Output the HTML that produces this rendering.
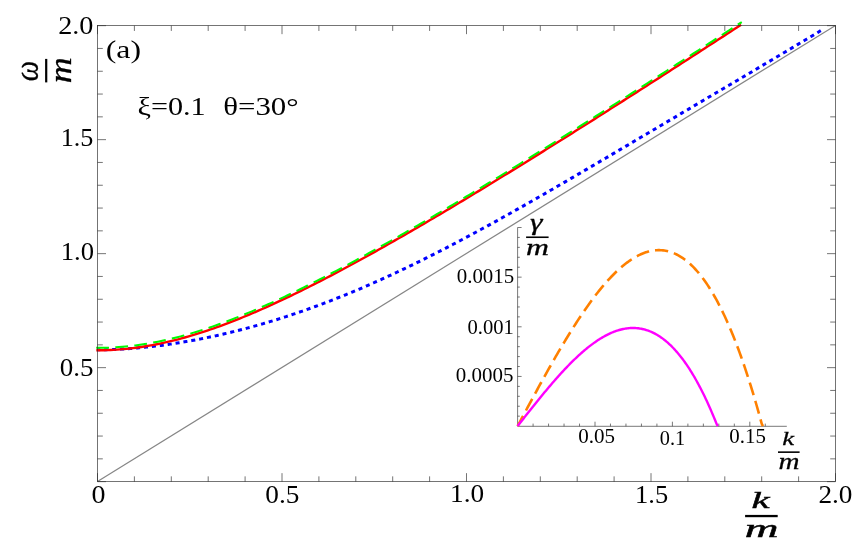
<!DOCTYPE html>
<html><head><meta charset="utf-8"><title>Dispersion plot</title><style>html,body{margin:0;padding:0;background:#fff}svg{display:block}</style></head>
<body>
<svg width="863" height="542" viewBox="0 0 863 542">
<rect width="100%" height="100%" fill="#fff"/>
<path d="M97.50,481.40 L835.50,25.40" stroke="#868686" stroke-width="1.2" fill="none"/>
<path d="M97.50,349.76 L99.31,349.76 L101.13,349.75 L102.94,349.73 L104.76,349.70 L106.57,349.67 L108.39,349.62 L110.20,349.57 L112.02,349.51 L113.83,349.45 L115.64,349.38 L117.46,349.30 L119.27,349.21 L121.09,349.11 L122.90,349.01 L124.72,348.91 L126.53,348.79 L128.35,348.67 L130.16,348.54 L131.98,348.41 L133.79,348.27 L135.60,348.12 L137.42,347.96 L139.23,347.80 L141.05,347.64 L142.86,347.46 L144.68,347.28 L146.49,347.10 L148.31,346.91 L150.12,346.71 L151.93,346.50 L153.75,346.29 L155.56,346.08 L157.38,345.86 L159.19,345.63 L161.01,345.40 L162.82,345.16 L164.64,344.91 L166.45,344.66 L168.26,344.40 L170.08,344.14 L171.89,343.88 L173.71,343.60 L175.52,343.32 L177.34,343.04 L179.15,342.75 L180.97,342.46 L182.78,342.16 L184.60,341.85 L186.41,341.54 L188.22,341.22 L190.04,340.90 L191.85,340.57 L193.67,340.24 L195.48,339.90 L197.30,339.56 L199.11,339.21 L200.93,338.86 L202.74,338.50 L204.55,338.14 L206.37,337.77 L208.18,337.39 L210.00,337.01 L211.81,336.63 L213.63,336.24 L215.44,335.85 L217.26,335.45 L219.07,335.04 L220.88,334.63 L222.70,334.22 L224.51,333.80 L226.33,333.37 L228.14,332.94 L229.96,332.51 L231.77,332.07 L233.59,331.62 L235.40,331.17 L237.22,330.71 L239.03,330.25 L240.84,329.79 L242.66,329.32 L244.47,328.84 L246.29,328.36 L248.10,327.88 L249.92,327.39 L251.73,326.89 L253.55,326.39 L255.36,325.89 L257.17,325.38 L258.99,324.86 L260.80,324.34 L262.62,323.82 L264.43,323.29 L266.25,322.76 L268.06,322.22 L269.88,321.67 L271.69,321.12 L273.50,320.57 L275.32,320.01 L277.13,319.45 L278.95,318.88 L280.76,318.31 L282.58,317.73 L284.39,317.15 L286.21,316.56 L288.02,315.97 L289.84,315.37 L291.65,314.77 L293.46,314.16 L295.28,313.55 L297.09,312.94 L298.91,312.31 L300.72,311.69 L302.54,311.06 L304.35,310.42 L306.17,309.79 L307.98,309.14 L309.79,308.49 L311.61,307.84 L313.42,307.18 L315.24,306.52 L317.05,305.85 L318.87,305.18 L320.68,304.50 L322.50,303.82 L324.31,303.14 L326.12,302.45 L327.94,301.75 L329.75,301.06 L331.57,300.35 L333.38,299.65 L335.20,298.93 L337.01,298.22 L338.83,297.50 L340.64,296.77 L342.45,296.04 L344.27,295.31 L346.08,294.57 L347.90,293.83 L349.71,293.08 L351.53,292.33 L353.34,291.57 L355.16,290.82 L356.97,290.05 L358.79,289.28 L360.60,288.51 L362.41,287.74 L364.23,286.96 L366.04,286.17 L367.86,285.39 L369.67,284.59 L371.49,283.80 L373.30,283.00 L375.12,282.19 L376.93,281.39 L378.74,280.57 L380.56,279.76 L382.37,278.94 L384.19,278.12 L386.00,277.29 L387.82,276.46 L389.63,275.62 L391.45,274.79 L393.26,273.94 L395.07,273.10 L396.89,272.25 L398.70,271.40 L400.52,270.54 L402.33,269.68 L404.15,268.82 L405.96,267.95 L407.78,267.08 L409.59,266.21 L411.41,265.33 L413.22,264.45 L415.03,263.56 L416.85,262.68 L418.66,261.79 L420.48,260.89 L422.29,260.00 L424.11,259.10 L425.92,258.19 L427.74,257.29 L429.55,256.38 L431.36,255.46 L433.18,254.55 L434.99,253.63 L436.81,252.71 L438.62,251.78 L440.44,250.86 L442.25,249.93 L444.07,248.99 L445.88,248.06 L447.69,247.12 L449.51,246.18 L451.32,245.23 L453.14,244.29 L454.95,243.34 L456.77,242.38 L458.58,241.43 L460.40,240.47 L462.21,239.51 L464.03,238.55 L465.84,237.58 L467.65,236.62 L469.47,235.65 L471.28,234.67 L473.10,233.70 L474.91,232.72 L476.73,231.74 L478.54,230.76 L480.36,229.78 L482.17,228.79 L483.98,227.80 L485.80,226.81 L487.61,225.82 L489.43,224.83 L491.24,223.83 L493.06,222.83 L494.87,221.83 L496.69,220.83 L498.50,219.82 L500.31,218.82 L502.13,217.81 L503.94,216.80 L505.76,215.79 L507.57,214.77 L509.39,213.76 L511.20,212.74 L513.02,211.72 L514.83,210.70 L516.65,209.68 L518.46,208.66 L520.27,207.63 L522.09,206.61 L523.90,205.58 L525.72,204.55 L527.53,203.52 L529.35,202.48 L531.16,201.45 L532.98,200.42 L534.79,199.38 L536.60,198.34 L538.42,197.30 L540.23,196.26 L542.05,195.22 L543.86,194.18 L545.68,193.13 L547.49,192.09 L549.31,191.04 L551.12,189.99 L552.93,188.95 L554.75,187.90 L556.56,186.85 L558.38,185.79 L560.19,184.74 L562.01,183.69 L563.82,182.63 L565.64,181.58 L567.45,180.52 L569.27,179.47 L571.08,178.41 L572.89,177.35 L574.71,176.29 L576.52,175.23 L578.34,174.17 L580.15,173.11 L581.97,172.05 L583.78,170.98 L585.60,169.92 L587.41,168.86 L589.22,167.79 L591.04,166.73 L592.85,165.66 L594.67,164.60 L596.48,163.53 L598.30,162.46 L600.11,161.39 L601.93,160.33 L603.74,159.26 L605.55,158.19 L607.37,157.12 L609.18,156.05 L611.00,154.98 L612.81,153.91 L614.63,152.84 L616.44,151.77 L618.26,150.70 L620.07,149.63 L621.89,148.55 L623.70,147.48 L625.51,146.41 L627.33,145.34 L629.14,144.27 L630.96,143.19 L632.77,142.12 L634.59,141.05 L636.40,139.98 L638.22,138.90 L640.03,137.83 L641.84,136.76 L643.66,135.68 L645.47,134.61 L647.29,133.54 L649.10,132.46 L650.92,131.39 L652.73,130.31 L654.55,129.24 L656.36,128.17 L658.17,127.09 L659.99,126.02 L661.80,124.95 L663.62,123.87 L665.43,122.80 L667.25,121.73 L669.06,120.65 L670.88,119.58 L672.69,118.51 L674.51,117.43 L676.32,116.36 L678.13,115.29 L679.95,114.21 L681.76,113.14 L683.58,112.07 L685.39,111.00 L687.21,109.92 L689.02,108.85 L690.84,107.78 L692.65,106.71 L694.46,105.63 L696.28,104.56 L698.09,103.49 L699.91,102.42 L701.72,101.35 L703.54,100.27 L705.35,99.20 L707.17,98.13 L708.98,97.06 L710.79,95.99 L712.61,94.92 L714.42,93.85 L716.24,92.77 L718.05,91.70 L719.87,90.63 L721.68,89.56 L723.50,88.49 L725.31,87.42 L727.12,86.35 L728.94,85.28 L730.75,84.21 L732.57,83.13 L734.38,82.06 L736.20,80.99 L738.01,79.92 L739.83,78.85 L741.64,77.78 L743.46,76.71 L745.27,75.63 L747.08,74.56 L748.90,73.49 L750.71,72.42 L752.53,71.35 L754.34,70.27 L756.16,69.20 L757.97,68.13 L759.79,67.05 L761.60,65.98 L763.41,64.91 L765.23,63.83 L767.04,62.76 L768.86,61.68 L770.67,60.61 L772.49,59.53 L774.30,58.46 L776.12,57.38 L777.93,56.30 L779.74,55.22 L781.56,54.14 L783.37,53.07 L785.19,51.99 L787.00,50.91 L788.82,49.82 L790.63,48.74 L792.45,47.66 L794.26,46.58 L796.08,45.49 L797.89,44.41 L799.70,43.32 L801.52,42.24 L803.33,41.15 L805.15,40.06 L806.96,38.97 L808.78,37.88 L810.59,36.79 L812.41,35.69 L814.22,34.60 L816.03,33.51 L817.85,32.41 L819.66,31.31 L821.48,30.21" stroke="#0000ff" stroke-width="3.0" fill="none" stroke-dasharray="4.06 3.91" stroke-dashoffset="1.3"/>
<path d="M97.50,350.30 L100.73,350.29 L103.96,350.23 L107.19,350.14 L110.42,350.01 L113.65,349.85 L116.88,349.65 L120.10,349.41 L123.33,349.13 L126.56,348.83 L129.79,348.48 L133.02,348.10 L136.25,347.69 L139.48,347.24 L142.71,346.75 L145.94,346.23 L149.17,345.68 L152.40,345.10 L155.63,344.48 L158.86,343.83 L162.08,343.15 L165.31,342.44 L168.54,341.70 L171.77,340.92 L175.00,340.12 L178.23,339.29 L181.46,338.42 L184.69,337.53 L187.92,336.62 L191.15,335.67 L194.38,334.70 L197.61,333.70 L200.83,332.68 L204.06,331.63 L207.29,330.55 L210.52,329.46 L213.75,328.33 L216.98,327.19 L220.21,326.02 L223.44,324.83 L226.67,323.62 L229.90,322.39 L233.13,321.14 L236.36,319.87 L239.59,318.57 L242.81,317.26 L246.04,315.93 L249.27,314.59 L252.50,313.22 L255.73,311.84 L258.96,310.44 L262.19,309.02 L265.42,307.58 L268.65,306.14 L271.88,304.67 L275.11,303.19 L278.34,301.70 L281.57,300.19 L284.79,298.67 L288.02,297.13 L291.25,295.58 L294.48,294.02 L297.71,292.45 L300.94,290.86 L304.17,289.26 L307.40,287.65 L310.63,286.03 L313.86,284.40 L317.09,282.75 L320.32,281.10 L323.54,279.43 L326.77,277.76 L330.00,276.08 L333.23,274.38 L336.46,272.68 L339.69,270.97 L342.92,269.24 L346.15,267.51 L349.38,265.78 L352.61,264.03 L355.84,262.27 L359.07,260.51 L362.30,258.74 L365.52,256.96 L368.75,255.18 L371.98,253.39 L375.21,251.59 L378.44,249.78 L381.67,247.97 L384.90,246.15 L388.13,244.32 L391.36,242.49 L394.59,240.65 L397.82,238.81 L401.05,236.96 L404.28,235.10 L407.50,233.24 L410.73,231.38 L413.96,229.51 L417.19,227.63 L420.42,225.75 L423.65,223.86 L426.88,221.97 L430.11,220.07 L433.34,218.17 L436.57,216.27 L439.80,214.36 L443.03,212.44 L446.26,210.52 L449.48,208.60 L452.71,206.67 L455.94,204.74 L459.17,202.81 L462.40,200.87 L465.63,198.93 L468.86,196.98 L472.09,195.03 L475.32,193.08 L478.55,191.12 L481.78,189.16 L485.01,187.20 L488.23,185.23 L491.46,183.26 L494.69,181.29 L497.92,179.31 L501.15,177.34 L504.38,175.35 L507.61,173.37 L510.84,171.38 L514.07,169.39 L517.30,167.40 L520.53,165.40 L523.76,163.40 L526.99,161.40 L530.21,159.40 L533.44,157.39 L536.67,155.39 L539.90,153.38 L543.13,151.36 L546.36,149.35 L549.59,147.33 L552.82,145.31 L556.05,143.29 L559.28,141.26 L562.51,139.24 L565.74,137.21 L568.97,135.18 L572.19,133.15 L575.42,131.11 L578.65,129.08 L581.88,127.04 L585.11,125.00 L588.34,122.96 L591.57,120.91 L594.80,118.87 L598.03,116.82 L601.26,114.77 L604.49,112.72 L607.72,110.67 L610.94,108.61 L614.17,106.56 L617.40,104.50 L620.63,102.44 L623.86,100.38 L627.09,98.32 L630.32,96.26 L633.55,94.19 L636.78,92.13 L640.01,90.06 L643.24,87.99 L646.47,85.92 L649.70,83.85 L652.92,81.78 L656.15,79.70 L659.38,77.63 L662.61,75.55 L665.84,73.47 L669.07,71.39 L672.30,69.31 L675.53,67.23 L678.76,65.15 L681.99,63.07 L685.22,60.98 L688.45,58.90 L691.68,56.81 L694.90,54.72 L698.13,52.63 L701.36,50.54 L704.59,48.45 L707.82,46.36 L711.05,44.26 L714.28,42.17 L717.51,40.08 L720.74,37.98 L723.97,35.88 L727.20,33.78 L730.43,31.68 L733.66,29.58 L736.88,27.48 L740.11,25.38" stroke="#ff0000" stroke-width="2.4" fill="none" stroke-linecap="square"/>
<path d="M96.21,347.87 L99.45,347.86 L102.70,347.82 L105.94,347.74 L109.18,347.63 L112.43,347.48 L115.67,347.29 L118.92,347.07 L122.16,346.81 L125.40,346.52 L128.65,346.19 L131.89,345.82 L135.14,345.42 L138.38,344.99 L141.63,344.52 L144.87,344.01 L148.11,343.48 L151.36,342.91 L154.60,342.30 L157.85,341.67 L161.09,341.00 L164.33,340.30 L167.58,339.57 L170.82,338.81 L174.07,338.02 L177.31,337.20 L180.55,336.35 L183.80,335.47 L187.04,334.56 L190.29,333.63 L193.53,332.66 L196.77,331.68 L200.02,330.66 L203.26,329.62 L206.51,328.56 L209.75,327.47 L212.99,326.36 L216.24,325.22 L219.48,324.06 L222.73,322.88 L225.97,321.68 L229.21,320.45 L232.46,319.21 L235.70,317.94 L238.95,316.65 L242.19,315.35 L245.43,314.02 L248.68,312.68 L251.92,311.32 L255.17,309.94 L258.41,308.54 L261.65,307.13 L264.90,305.70 L268.14,304.25 L271.39,302.79 L274.63,301.31 L277.88,299.82 L281.12,298.31 L284.36,296.79 L287.61,295.25 L290.85,293.71 L294.10,292.14 L297.34,290.57 L300.58,288.98 L303.83,287.38 L307.07,285.77 L310.32,284.15 L313.56,282.51 L316.80,280.87 L320.05,279.21 L323.29,277.54 L326.54,275.87 L329.78,274.18 L333.02,272.48 L336.27,270.78 L339.51,269.06 L342.76,267.33 L346.00,265.60 L349.24,263.86 L352.49,262.11 L355.73,260.35 L358.98,258.58 L362.22,256.80 L365.46,255.02 L368.71,253.23 L371.95,251.43 L375.20,249.63 L378.44,247.81 L381.68,245.99 L384.93,244.17 L388.17,242.34 L391.42,240.50 L394.66,238.65 L397.90,236.80 L401.15,234.94 L404.39,233.08 L407.64,231.21 L410.88,229.34 L414.13,227.46 L417.37,225.57 L420.61,223.68 L423.86,221.79 L427.10,219.89 L430.35,217.98 L433.59,216.07 L436.83,214.16 L440.08,212.24 L443.32,210.31 L446.57,208.38 L449.81,206.45 L453.05,204.52 L456.30,202.57 L459.54,200.63 L462.79,198.68 L466.03,196.73 L469.27,194.77 L472.52,192.81 L475.76,190.85 L479.01,188.88 L482.25,186.91 L485.49,184.94 L488.74,182.96 L491.98,180.98 L495.23,178.99 L498.47,177.01 L501.71,175.02 L504.96,173.02 L508.20,171.03 L511.45,169.03 L514.69,167.03 L517.93,165.02 L521.18,163.01 L524.42,161.00 L527.67,158.99 L530.91,156.97 L534.15,154.96 L537.40,152.93 L540.64,150.91 L543.89,148.89 L547.13,146.86 L550.38,144.83 L553.62,142.80 L556.86,140.76 L560.11,138.72 L563.35,136.68 L566.60,134.64 L569.84,132.60 L573.08,130.55 L576.33,128.51 L579.57,126.46 L582.82,124.41 L586.06,122.35 L589.30,120.30 L592.55,118.24 L595.79,116.18 L599.04,114.12 L602.28,112.06 L605.52,109.99 L608.77,107.93 L612.01,105.86 L615.26,103.79 L618.50,101.72 L621.74,99.65 L624.99,97.57 L628.23,95.50 L631.48,93.42 L634.72,91.34 L637.96,89.26 L641.21,87.18 L644.45,85.10 L647.70,83.01 L650.94,80.93 L654.18,78.84 L657.43,76.75 L660.67,74.66 L663.92,72.57 L667.16,70.48 L670.40,68.38 L673.65,66.29 L676.89,64.19 L680.14,62.10 L683.38,60.00 L686.63,57.90 L689.87,55.80 L693.11,53.70 L696.36,51.59 L699.60,49.49 L702.85,47.38 L706.09,45.28 L709.33,43.17 L712.58,41.06 L715.82,38.95 L719.07,36.84 L722.31,34.73 L725.55,32.62 L728.80,30.50 L732.04,28.39 L735.29,26.27 L738.53,24.16 L741.77,22.04" stroke="#00fa00" stroke-width="2.0" fill="none" stroke-dasharray="12.8 6.3"/>
<g stroke="#2a2a2a" stroke-width="0.65" fill="none">
<rect x="97.50" y="25.65" width="738.00" height="456.00"/>
<path d="M97.50,481.65 v-8.50 M97.50,25.65 v8.50 M97.50,481.65 h8.50 M835.50,481.65 h-8.50 M134.40,481.65 v-5.30 M134.40,25.65 v5.30 M97.50,458.85 h5.30 M835.50,458.85 h-5.30 M171.30,481.65 v-5.30 M171.30,25.65 v5.30 M97.50,436.05 h5.30 M835.50,436.05 h-5.30 M208.20,481.65 v-5.30 M208.20,25.65 v5.30 M97.50,413.25 h5.30 M835.50,413.25 h-5.30 M245.10,481.65 v-5.30 M245.10,25.65 v5.30 M97.50,390.45 h5.30 M835.50,390.45 h-5.30 M282.00,481.65 v-8.50 M282.00,25.65 v8.50 M97.50,367.65 h8.50 M835.50,367.65 h-8.50 M318.90,481.65 v-5.30 M318.90,25.65 v5.30 M97.50,344.85 h5.30 M835.50,344.85 h-5.30 M355.80,481.65 v-5.30 M355.80,25.65 v5.30 M97.50,322.05 h5.30 M835.50,322.05 h-5.30 M392.70,481.65 v-5.30 M392.70,25.65 v5.30 M97.50,299.25 h5.30 M835.50,299.25 h-5.30 M429.60,481.65 v-5.30 M429.60,25.65 v5.30 M97.50,276.45 h5.30 M835.50,276.45 h-5.30 M466.50,481.65 v-8.50 M466.50,25.65 v8.50 M97.50,253.65 h8.50 M835.50,253.65 h-8.50 M503.40,481.65 v-5.30 M503.40,25.65 v5.30 M97.50,230.85 h5.30 M835.50,230.85 h-5.30 M540.30,481.65 v-5.30 M540.30,25.65 v5.30 M97.50,208.05 h5.30 M835.50,208.05 h-5.30 M577.20,481.65 v-5.30 M577.20,25.65 v5.30 M97.50,185.25 h5.30 M835.50,185.25 h-5.30 M614.10,481.65 v-5.30 M614.10,25.65 v5.30 M97.50,162.45 h5.30 M835.50,162.45 h-5.30 M651.00,481.65 v-8.50 M651.00,25.65 v8.50 M97.50,139.65 h8.50 M835.50,139.65 h-8.50 M687.90,481.65 v-5.30 M687.90,25.65 v5.30 M97.50,116.85 h5.30 M835.50,116.85 h-5.30 M724.80,481.65 v-5.30 M724.80,25.65 v5.30 M97.50,94.05 h5.30 M835.50,94.05 h-5.30 M761.70,481.65 v-5.30 M761.70,25.65 v5.30 M97.50,71.25 h5.30 M835.50,71.25 h-5.30 M798.60,481.65 v-5.30 M798.60,25.65 v5.30 M97.50,48.45 h5.30 M835.50,48.45 h-5.30 M835.50,481.65 v-8.50 M835.50,25.65 v8.50 M97.50,25.65 h8.50 M835.50,25.65 h-8.50"/>
</g>
<g stroke="#303030" stroke-width="0.65" fill="none">
<path d="M517.60,227.50 V426.30 H786.80"/>
<path d="M533.08,426.30 v-2.70 M548.56,426.30 v-2.70 M564.04,426.30 v-2.70 M579.52,426.30 v-2.70 M595.00,426.30 v-4.60 M610.48,426.30 v-2.70 M625.96,426.30 v-2.70 M641.44,426.30 v-2.70 M656.92,426.30 v-2.70 M672.40,426.30 v-4.60 M687.88,426.30 v-2.70 M703.36,426.30 v-2.70 M718.84,426.30 v-2.70 M734.32,426.30 v-2.70 M749.80,426.30 v-4.60 M765.28,426.30 v-2.70 M517.60,416.17 h2.20 M517.60,406.24 h2.20 M517.60,396.31 h2.20 M517.60,386.38 h2.20 M517.60,376.45 h4.00 M517.60,366.52 h2.20 M517.60,356.59 h2.20 M517.60,346.66 h2.20 M517.60,336.73 h2.20 M517.60,326.80 h4.00 M517.60,316.87 h2.20 M517.60,306.94 h2.20 M517.60,297.01 h2.20 M517.60,287.08 h2.20 M517.60,277.15 h4.00 M517.60,267.22 h2.20 M517.60,257.29 h2.20 M517.60,247.36 h2.20 M517.60,237.43 h2.20 M517.60,227.50 h4.00"/>
</g>
<path d="M517.60,426.10 L518.83,423.80 L520.07,421.50 L521.30,419.19 L522.53,416.89 L523.76,414.59 L525.00,412.30 L526.23,410.00 L527.46,407.71 L528.70,405.42 L529.93,403.13 L531.16,400.85 L532.40,398.57 L533.63,396.29 L534.86,394.02 L536.09,391.76 L537.33,389.50 L538.56,387.24 L539.79,384.99 L541.03,382.75 L542.26,380.51 L543.49,378.28 L544.73,376.06 L545.96,373.85 L547.19,371.64 L548.42,369.44 L549.66,367.26 L550.89,365.08 L552.12,362.91 L553.36,360.75 L554.59,358.60 L555.82,356.46 L557.05,354.33 L558.29,352.21 L559.52,350.10 L560.75,348.01 L561.99,345.93 L563.22,343.86 L564.45,341.80 L565.69,339.76 L566.92,337.73 L568.15,335.72 L569.38,333.71 L570.62,331.73 L571.85,329.76 L573.08,327.80 L574.32,325.86 L575.55,323.94 L576.78,322.03 L578.01,320.14 L579.25,318.27 L580.48,316.41 L581.71,314.57 L582.95,312.75 L584.18,310.95 L585.41,309.17 L586.65,307.41 L587.88,305.67 L589.11,303.94 L590.34,302.24 L591.58,300.56 L592.81,298.90 L594.04,297.26 L595.28,295.64 L596.51,294.04 L597.74,292.47 L598.98,290.92 L600.21,289.39 L601.44,287.89 L602.67,286.41 L603.91,284.95 L605.14,283.52 L606.37,282.11 L607.61,280.73 L608.84,279.38 L610.07,278.05 L611.30,276.74 L612.54,275.47 L613.77,274.22 L615.00,272.99 L616.24,271.80 L617.47,270.63 L618.70,269.49 L619.94,268.38 L621.17,267.30 L622.40,266.25 L623.63,265.23 L624.87,264.24 L626.10,263.28 L627.33,262.35 L628.57,261.45 L629.80,260.59 L631.03,259.75 L632.26,258.95 L633.50,258.18 L634.73,257.44 L635.96,256.74 L637.20,256.07 L638.43,255.43 L639.66,254.83 L640.90,254.26 L642.13,253.73 L643.36,253.23 L644.59,252.77 L645.83,252.35 L647.06,251.96 L648.29,251.61 L649.53,251.29 L650.76,251.01 L651.99,250.77 L653.23,250.57 L654.46,250.41 L655.69,250.29 L656.92,250.20 L658.16,250.16 L659.39,250.16 L660.62,250.19 L661.86,250.27 L663.09,250.38 L664.32,250.54 L665.55,250.74 L666.79,250.99 L668.02,251.27 L669.25,251.60 L670.49,251.97 L671.72,252.39 L672.95,252.84 L674.19,253.35 L675.42,253.89 L676.65,254.48 L677.88,255.12 L679.12,255.80 L680.35,256.53 L681.58,257.31 L682.82,258.13 L684.05,259.00 L685.28,259.91 L686.51,260.88 L687.75,261.89 L688.98,262.95 L690.21,264.06 L691.45,265.21 L692.68,266.42 L693.91,267.68 L695.15,268.99 L696.38,270.34 L697.61,271.75 L698.84,273.21 L700.08,274.72 L701.31,276.29 L702.54,277.90 L703.78,279.57 L705.01,281.29 L706.24,283.06 L707.48,284.89 L708.71,286.77 L709.94,288.71 L711.17,290.70 L712.41,292.75 L713.64,294.85 L714.87,297.00 L716.11,299.22 L717.34,301.49 L718.57,303.81 L719.80,306.20 L721.04,308.64 L722.27,311.14 L723.50,313.69 L724.74,316.31 L725.97,318.98 L727.20,321.72 L728.44,324.51 L729.67,327.36 L730.90,330.28 L732.13,333.25 L733.37,336.28 L734.60,339.38 L735.83,342.54 L737.07,345.76 L738.30,349.04 L739.53,352.39 L740.76,355.80 L742.00,359.27 L743.23,362.80 L744.46,366.40 L745.70,370.07 L746.93,373.80 L748.16,377.59 L749.40,381.45 L750.63,385.38 L751.86,389.37 L753.09,393.43 L754.33,397.56 L755.56,401.75 L756.79,406.01 L758.03,410.34 L759.26,414.74 L760.49,419.20 L761.73,423.74 L762.96,426.10" stroke="#ff8000" stroke-width="2.6" fill="none" stroke-dasharray="13.2 6.0" stroke-dashoffset="1.5"/>
<path d="M517.60,426.10 L518.61,424.82 L519.61,423.53 L520.62,422.25 L521.62,420.97 L522.63,419.69 L523.63,418.41 L524.64,417.13 L525.65,415.85 L526.65,414.58 L527.66,413.30 L528.66,412.03 L529.67,410.76 L530.68,409.49 L531.68,408.23 L532.69,406.97 L533.69,405.71 L534.70,404.45 L535.70,403.20 L536.71,401.95 L537.72,400.70 L538.72,399.46 L539.73,398.22 L540.73,396.99 L541.74,395.76 L542.75,394.54 L543.75,393.32 L544.76,392.10 L545.76,390.89 L546.77,389.69 L547.77,388.49 L548.78,387.30 L549.79,386.11 L550.79,384.93 L551.80,383.76 L552.80,382.59 L553.81,381.43 L554.82,380.28 L555.82,379.13 L556.83,378.00 L557.83,376.86 L558.84,375.74 L559.84,374.63 L560.85,373.52 L561.86,372.42 L562.86,371.33 L563.87,370.25 L564.87,369.18 L565.88,368.12 L566.88,367.06 L567.89,366.02 L568.90,364.98 L569.90,363.96 L570.91,362.95 L571.91,361.94 L572.92,360.95 L573.93,359.97 L574.93,358.99 L575.94,358.03 L576.94,357.08 L577.95,356.15 L578.95,355.22 L579.96,354.31 L580.97,353.40 L581.97,352.51 L582.98,351.64 L583.98,350.77 L584.99,349.92 L586.00,349.08 L587.00,348.26 L588.01,347.44 L589.01,346.65 L590.02,345.86 L591.02,345.09 L592.03,344.34 L593.04,343.59 L594.04,342.87 L595.05,342.15 L596.05,341.46 L597.06,340.77 L598.06,340.11 L599.07,339.46 L600.08,338.82 L601.08,338.20 L602.09,337.60 L603.09,337.01 L604.10,336.44 L605.11,335.89 L606.11,335.35 L607.12,334.83 L608.12,334.33 L609.13,333.85 L610.13,333.38 L611.14,332.93 L612.15,332.50 L613.15,332.09 L614.16,331.69 L615.16,331.32 L616.17,330.96 L617.18,330.63 L618.18,330.31 L619.19,330.01 L620.19,329.73 L621.20,329.47 L622.20,329.23 L623.21,329.02 L624.22,328.82 L625.22,328.64 L626.23,328.48 L627.23,328.35 L628.24,328.24 L629.25,328.14 L630.25,328.07 L631.26,328.02 L632.26,328.00 L633.27,327.99 L634.27,328.01 L635.28,328.05 L636.29,328.11 L637.29,328.20 L638.30,328.31 L639.30,328.44 L640.31,328.60 L641.31,328.78 L642.32,328.98 L643.33,329.21 L644.33,329.46 L645.34,329.74 L646.34,330.04 L647.35,330.37 L648.36,330.72 L649.36,331.10 L650.37,331.50 L651.37,331.93 L652.38,332.38 L653.38,332.86 L654.39,333.37 L655.40,333.90 L656.40,334.46 L657.41,335.05 L658.41,335.67 L659.42,336.31 L660.43,336.98 L661.43,337.67 L662.44,338.40 L663.44,339.15 L664.45,339.93 L665.45,340.74 L666.46,341.58 L667.47,342.45 L668.47,343.34 L669.48,344.27 L670.48,345.22 L671.49,346.21 L672.49,347.22 L673.50,348.26 L674.51,349.34 L675.51,350.44 L676.52,351.58 L677.52,352.75 L678.53,353.94 L679.54,355.17 L680.54,356.43 L681.55,357.72 L682.55,359.05 L683.56,360.40 L684.56,361.79 L685.57,363.21 L686.58,364.66 L687.58,366.14 L688.59,367.66 L689.59,369.21 L690.60,370.80 L691.61,372.42 L692.61,374.07 L693.62,375.75 L694.62,377.47 L695.63,379.23 L696.63,381.02 L697.64,382.84 L698.65,384.70 L699.65,386.59 L700.66,388.52 L701.66,390.48 L702.67,392.48 L703.68,394.52 L704.68,396.59 L705.69,398.70 L706.69,400.84 L707.70,403.02 L708.70,405.24 L709.71,407.50 L710.72,409.79 L711.72,412.12 L712.73,414.49 L713.73,416.89 L714.74,419.33 L715.74,421.82 L716.75,424.34 L717.76,426.10" stroke="#ff00ff" stroke-width="2.4" fill="none"/>
<g font-family="Liberation Serif, serif" fill="#000" opacity="0.999">
<text font-size="25.26" transform="translate(58.20 34.10) scale(1.1165 1)" xml:space="preserve">2.0</text>
<text font-size="25.68" transform="translate(60.71 146.15) scale(1.0198 1)" xml:space="preserve">1.5</text>
<text font-size="25.71" transform="translate(60.67 260.30) scale(1.0370 1)" xml:space="preserve">1.0</text>
<text font-size="25.71" transform="translate(59.69 376.30) scale(1.0514 1)" xml:space="preserve">0.5</text>
<text font-size="25.41" transform="translate(91.45 502.50) scale(1.1018 1)" xml:space="preserve">0</text>
<text font-size="25.56" transform="translate(265.28 502.60) scale(1.0676 1)" xml:space="preserve">0.5</text>
<text font-size="25.41" transform="translate(450.01 502.30) scale(1.0738 1)" xml:space="preserve">1.0</text>
<text font-size="25.76" transform="translate(635.08 502.60) scale(1.0272 1)" xml:space="preserve">1.5</text>
<text font-size="25.56" transform="translate(818.44 502.60) scale(1.0665 1)" xml:space="preserve">2.0</text>
<text font-size="25.68" transform="translate(105.75 58.00) scale(1.2383 1)" xml:space="preserve">(a)</text>
<text font-size="24.43" transform="translate(137.52 114.50) scale(1.2352 1)" xml:space="preserve">ξ=0.1</text>
<text font-size="24.43" transform="translate(223.13 114.50) scale(1.2660 1)" xml:space="preserve">θ=30°</text>
<text font-size="21.80" transform="translate(456.72 282.80) scale(0.9593 1)" xml:space="preserve">0.0015</text>
<text font-size="21.50" transform="translate(467.43 334.10) scale(0.9592 1)" xml:space="preserve">0.001</text>
<text font-size="21.80" transform="translate(455.71 382.30) scale(0.9627 1)" xml:space="preserve">0.0005</text>
<text font-size="21.35" transform="translate(578.21 442.80) scale(0.9856 1)" xml:space="preserve">0.05</text>
<text font-size="21.50" transform="translate(659.84 444.90) scale(0.9442 1)" xml:space="preserve">0.1</text>
<text font-size="21.50" transform="translate(729.32 443.20) scale(0.9732 1)" xml:space="preserve">0.15</text>
<text font-style="italic" font-size="23.64" transform="translate(529.94 229.78) scale(1.3429 1)" xml:space="preserve" stroke="#000" stroke-width="0.3">γ</text>
<rect x="526.1" y="236.45" width="22.5" height="1.6"/>
<text font-style="italic" font-size="22.77" transform="translate(525.89 255.20) scale(1.3961 1)" xml:space="preserve" stroke="#000" stroke-width="0.3">m</text>
<text font-style="italic" font-size="19.42" transform="translate(782.30 444.80) scale(1.3728 1)" xml:space="preserve" stroke="#000" stroke-width="0.25">k</text>
<rect x="778" y="451.35" width="21.6" height="1.6"/>
<text font-style="italic" font-size="22.98" transform="translate(778.38 469.20) scale(1.2684 1)" xml:space="preserve" stroke="#000" stroke-width="0.25">m</text>
<text font-style="italic" font-size="23.60" transform="translate(751.38 507.90) scale(1.7249 1)" xml:space="preserve" stroke="#000" stroke-width="0.45">k</text>
<rect x="745.1" y="514.9" width="32.6" height="2.3"/>
<text font-style="italic" font-size="25.74" transform="translate(744.66 536.50) scale(1.8187 1)" xml:space="preserve" stroke="#000" stroke-width="0.45">m</text>
<text font-style="italic" font-size="30.00" stroke="#000" stroke-width="0.3" transform="translate(38.47 81.14) rotate(-90) scale(0.9630 1.1111)">ω</text>
<rect x="45.1" y="58.9" width="2.2" height="23.5"/>
<text font-style="italic" font-size="30.00" stroke="#000" stroke-width="0.3" transform="translate(70.80 83.36) rotate(-90) scale(1.1990 1.0638)">m</text>
</g>
</svg>
</body></html>
